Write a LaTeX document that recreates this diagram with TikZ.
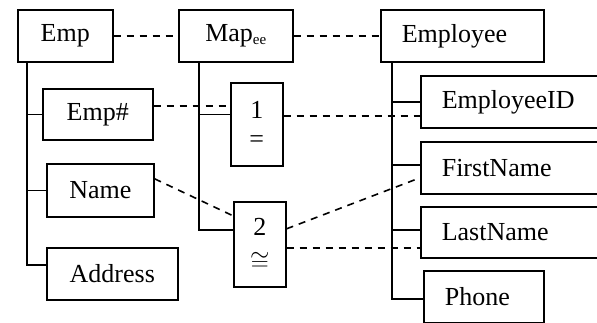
\documentclass[tikz,border=0pt]{standalone}
\usepackage{fontspec}
\setmainfont{Liberation Serif}
\usetikzlibrary{calc}
\begin{document}
\begin{tikzpicture}[x=1pt,y=-1pt,
  box/.style={draw, line width=1.6pt, rectangle, anchor=north west, inner sep=0pt,
    align=center, font=\fontsize{26}{28}\selectfont},
  lbox/.style={box, align=left, inner xsep=21pt},
  tree/.style={line width=1.6pt},
  link/.style={line width=1.6pt, dash pattern=on 7pt off 6pt}]
\path[use as bounding box] (0,0) rectangle (597,322);
\clip (0,0) rectangle (597,322);

% left entity
\node[box, minimum width=95pt, minimum height=52pt] (emp) at (17,9) {Emp};
\node[box, minimum width=110pt, minimum height=51pt] (empno) at (42,88) {Emp\#};
\node[box, minimum width=107pt, minimum height=53pt] (name) at (46,163) {Name};
\node[box, minimum width=131pt, minimum height=52pt] (address) at (46,247) {Address};

% mapping
\node[box, minimum width=114pt, minimum height=52pt] (map) at (178,9)
  {Map\raisebox{-3pt}{\fontsize{15}{15}\selectfont ee}};
\node[box, minimum width=52pt, minimum height=83pt] (box1) at (230,82) {1\\[1pt]=};
\node[box, minimum width=52pt, minimum height=85pt] (box2) at (233,201) {2\\[6pt]$\cong$};

% right entity
\node[lbox, text width=121pt, minimum height=52pt] (employee) at (380,9) {Employee};
\node[lbox, text width=158pt, minimum height=52pt] (empid) at (420,75) {EmployeeID};
\node[lbox, text width=158pt, minimum height=52pt] (firstname) at (420,141) {FirstName};
\node[lbox, text width=158pt, minimum height=51pt] (lastname) at (420,206) {LastName};
\node[lbox, text width=78pt, minimum height=52pt] (phone) at (423,270) {Phone};

% tree lines
\draw[tree] ($(emp.south west)+(10,0)$) |- ($(address.west)+(0,-9)$);
\draw[tree] ($(emp.south west)+(10,0)$) |- (empno.west);
\draw[tree] ($(emp.south west)+(10,0)$) |- (name.west);

\draw[tree] ($(map.south west)+(21,0)$) |- ($(box2.west)+(0,-14.5)$);
\draw[tree] ($(map.south west)+(21,0)$) |- ($(box1.west)+(0,-10)$);

\draw[tree] ($(employee.south west)+(12,0)$) |- ($(phone.west)+(0,2)$);
\draw[tree] ($(employee.south west)+(12,0)$) |- (empid.west);
\draw[tree] ($(employee.south west)+(12,0)$) |- ($(firstname.west)+(0,-3)$);
\draw[tree] ($(employee.south west)+(12,0)$) |- ($(lastname.west)+(0,-2.5)$);

% dashed correspondences
\draw[link] (emp.east) -- (map.west);
\draw[link] (map.east) -- (employee.west);
\draw[link] ($(empno.east)+(0,-8.5)$) -- ($(box1.west)+(0,-18.5)$);
\draw[link] ($(box1.east)+(0,-8.5)$) -- ($(empid.west)+(0,14)$);
\draw[link] ($(name.east)+(0,-11.5)$) -- ($(box2.west)+(0,-28.5)$);
\draw[link] ($(box2.east)+(0,-15.5)$) -- ($(firstname.west)+(0,10)$);
\draw[link] ($(box2.east)+(0,3.5)$) -- ($(lastname.west)+(0,15.5)$);
\end{tikzpicture}
\end{document}
